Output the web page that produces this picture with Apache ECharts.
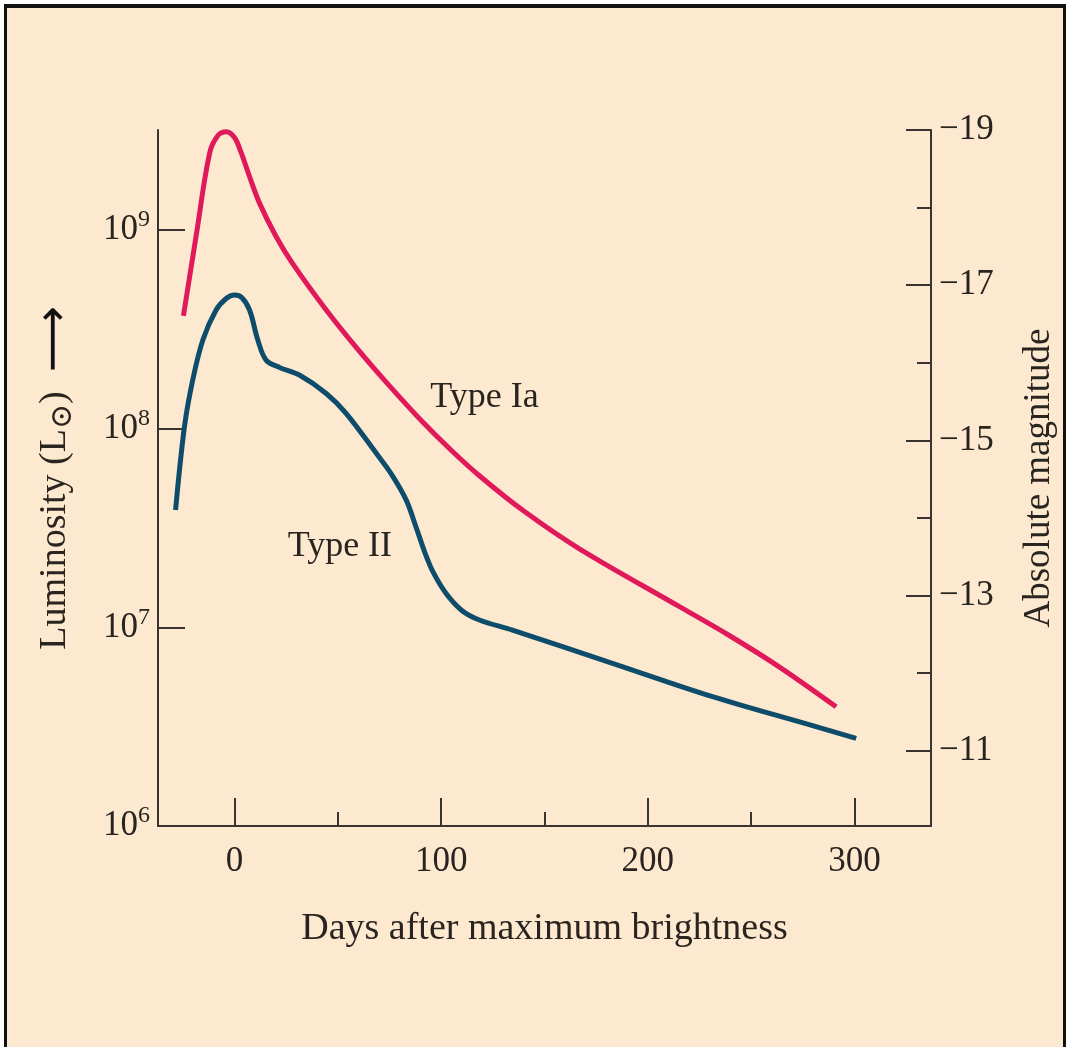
<!DOCTYPE html>
<html>
<head>
<meta charset="utf-8">
<script src="https://cdn.jsdelivr.net/npm/echarts@6/dist/echarts.min.js"></script>
<style>
  html, body { margin: 0; padding: 0; background: #ffffff; }
  #frame { position: absolute; left: 4px; top: 4px; width: 1056px; height: 1041px;
           background: #FCE9CF; border-top: 4px solid #111; border-left: 3px solid #111;
           border-right: 3px solid #111; border-bottom: 1px solid #c9bba8; }
  #chart { position: absolute; left: 0; top: 0; width: 1066px; height: 1047px; }
</style>
</head>
<body>
<div id="frame"></div>
<div id="chart"></div>
<script>
// Days after maximum brightness
const typeIaDays = [-24.7, -18.4, -12, -8, -4, 0, 3.2, 7.3, 12.1, 20.2, 28, 44.4, 60, 75, 90, 105, 118.5, 140, 166.9, 215.3, 240, 263.7, 291.1];
// log10 of luminosity (solar units)
const typeIaLogL = [8.567, 8.98, 9.387, 9.475, 9.494, 9.465, 9.39, 9.268, 9.135, 8.966, 8.833, 8.597, 8.395, 8.215, 8.045, 7.89, 7.763, 7.585, 7.395, 7.104, 6.955, 6.80, 6.60];

const typeIIDays = [-28.5, -24.2, -20.2, -15.3, -8.9, -4, 0, 3.5, 7.3, 11.3, 15.3, 21.8, 31.4, 44.4, 54, 68.6, 76, 83.1, 88, 92, 96, 102.4, 110, 118.5, 134.5, 182.9, 231.3, 279.7, 300.8];
const typeIILogL = [7.59, 8.01, 8.245, 8.446, 8.597, 8.655, 8.672, 8.66, 8.597, 8.446, 8.345, 8.308, 8.27, 8.177, 8.077, 7.876, 7.77, 7.64, 7.50, 7.38, 7.28, 7.17, 7.085, 7.037, 6.986, 6.819, 6.651, 6.505, 6.441];

const seriesNames = ['Type Ia', 'Type II'];
const labelDays = [121, 51];
const labelLogL = [8.154, 7.404];

const xMajorTicks = [0, 100, 200, 300];
const xMinorTicks = [50, 150, 250];
const lumExponents = [6, 7, 8, 9];
const magMajorTicks = [-19, -17, -15, -13, -11];
const magMinorTicks = [-18, -16, -14, -12];

const FONT = '"Liberation Serif", "DejaVu Serif", serif';
const INK = '#2a2420';
const AXIS = '#3a3430';

const pair = (xs, ys) => xs.map((x, i) => [x, ys[i]]);

const chart = echarts.init(document.getElementById('chart'), null, { renderer: 'canvas' });

const tickStyle = { fontFamily: FONT, fontSize: 35, color: INK };
const typeStyle = { fontFamily: FONT, fontSize: 36, color: INK };

chart.setOption({
  backgroundColor: 'transparent',
  animation: false,
  grid: { left: 158, right: 134, top: 130, bottom: 221, containLabel: false },
  xAxis: [
    {
      type: 'value', min: -37, max: 337, position: 'bottom',
      name: 'Days after maximum brightness', nameLocation: 'middle', nameGap: 84,
      nameTextStyle: { fontFamily: FONT, fontSize: 38, color: INK },
      axisLine: { show: true, onZero: false, lineStyle: { color: AXIS, width: 2 } },
      axisTick: { show: true, inside: true, length: 28, customValues: xMajorTicks, lineStyle: { color: AXIS, width: 2 } },
      axisLabel: { customValues: xMajorTicks, margin: 18, ...tickStyle },
      splitLine: { show: false }
    },
    {
      type: 'value', min: -37, max: 337, position: 'bottom',
      axisLine: { show: false, onZero: false },
      axisTick: { show: true, inside: true, length: 14, customValues: xMinorTicks, lineStyle: { color: AXIS, width: 2 } },
      axisLabel: { show: false },
      splitLine: { show: false }
    }
  ],
  yAxis: [
    {
      type: 'value', min: 6, max: 9.503, position: 'left',
      name: 'Luminosity (L{sub|⊙})  {arr|⟶}', nameLocation: 'middle', nameGap: 80,
      nameTextStyle: {
        fontFamily: FONT, fontSize: 38, color: INK,
        rich: {
          sub: { fontFamily: FONT, fontSize: 30, color: INK, verticalAlign: 'bottom' },
          arr: { fontFamily: '"DejaVu Sans", sans-serif', fontSize: 46, color: '#111' }
        }
      },
      axisLine: { show: true, onZero: false, lineStyle: { color: AXIS, width: 2 } },
      axisTick: { show: true, inside: true, length: 27, customValues: lumExponents, lineStyle: { color: AXIS, width: 2 } },
      axisLabel: {
        customValues: lumExponents, margin: 8,
        formatter: v => '{b|10}{sup|' + Math.round(v) + '}',
        rich: {
          b: { fontFamily: FONT, fontSize: 35, color: INK },
          sup: { fontFamily: FONT, fontSize: 24, color: INK, verticalAlign: 'top', padding: [0, 0, 20, 0] }
        }
      },
      splitLine: { show: false }
    },
    {
      type: 'value', min: -19, max: -10.03, inverse: true, position: 'right',
      name: 'Absolute magnitude', nameLocation: 'middle', nameGap: 90, nameRotate: 90,
      nameTextStyle: { fontFamily: FONT, fontSize: 37, color: INK },
      axisLine: { show: true, onZero: false, lineStyle: { color: AXIS, width: 2 } },
      axisTick: { show: true, inside: true, length: 25, customValues: magMajorTicks, lineStyle: { color: AXIS, width: 2 } },
      axisLabel: { customValues: magMajorTicks, margin: 8, formatter: v => '\u2212' + Math.abs(v), ...tickStyle },
      splitLine: { show: false }
    },
    {
      type: 'value', min: -19, max: -10.03, inverse: true, position: 'right',
      axisLine: { show: false, onZero: false },
      axisTick: { show: true, inside: true, length: 14, customValues: magMinorTicks, lineStyle: { color: AXIS, width: 2 } },
      axisLabel: { show: false },
      splitLine: { show: false }
    }
  ],
  series: [
    {
      name: seriesNames[0], type: 'line', xAxisIndex: 0, yAxisIndex: 0,
      data: pair(typeIaDays, typeIaLogL), smooth: 0.35, showSymbol: false, symbol: 'none',
      lineStyle: { color: '#E0195A', width: 5, cap: 'butt', join: 'round' },
      markPoint: {
        symbol: 'circle', symbolSize: 0, silent: true,
        label: { show: true, position: 'inside', formatter: '{b}', ...typeStyle },
        data: [{ name: seriesNames[0], coord: [labelDays[0], labelLogL[0]] }]
      }
    },
    {
      name: seriesNames[1], type: 'line', xAxisIndex: 0, yAxisIndex: 0,
      data: pair(typeIIDays, typeIILogL), smooth: 0.35, showSymbol: false, symbol: 'none',
      lineStyle: { color: '#0D4D6B', width: 5, cap: 'butt', join: 'round' },
      markPoint: {
        symbol: 'circle', symbolSize: 0, silent: true,
        label: { show: true, position: 'inside', formatter: '{b}', ...typeStyle },
        data: [{ name: seriesNames[1], coord: [labelDays[1], labelLogL[1]] }]
      }
    }
  ]
});
</script>
</body>
</html>
